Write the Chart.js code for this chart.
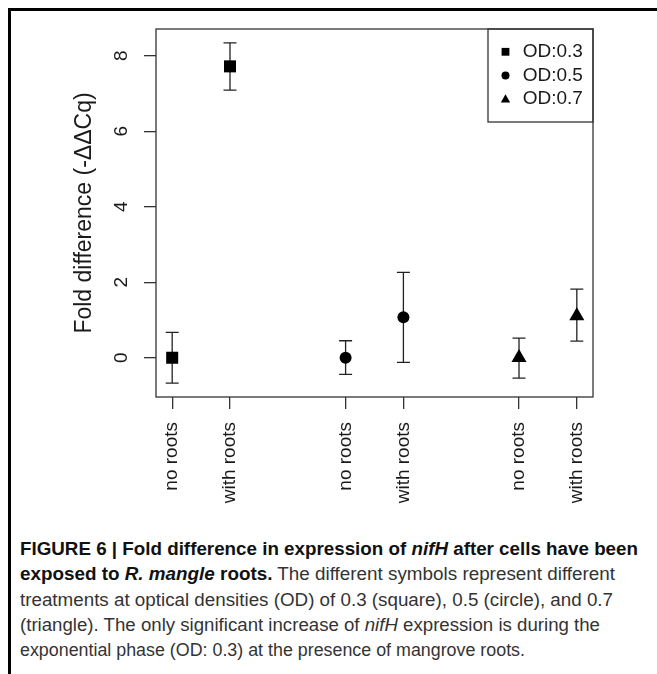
<!DOCTYPE html>
<html>
<head>
<meta charset="utf-8">
<script src="https://cdn.jsdelivr.net/npm/chart.js@4.4.1/dist/chart.umd.min.js"></script>
<style>
  body { margin: 0; background: #fff; }
  #pagina { position: relative; width: 657px; height: 674px; overflow: hidden; background: #fff; }
  #marco { position: absolute; left: 8px; top: 8px; width: 700px; height: 700px; border-top: 3px solid #000; border-left: 3px solid #000; }
  #grafico { position: absolute; left: 0; top: 0; }
  #pie { position: absolute; left: 20px; top: 537px; font-family: 'Liberation Sans', Arial, sans-serif; font-size: 17.5px; line-height: 25.3px; color: #333; }
  .linea { white-space: nowrap; height: 25.3px; }
  .linea span { display: inline-block; transform-origin: 0 0; }
  b { color: #111; }
</style>
</head>
<body>
<div id="pagina">
  <div id="marco"></div>
  <canvas id="grafico" width="657" height="526"></canvas>
  <div id="pie">
    <div class="linea"><span data-w="618"><b>FIGURE 6 | Fold difference in expression of <i>nifH</i> after cells have been</b></span></div>
    <div class="linea"><span data-w="595"><b>exposed to <i>R. mangle</i> roots.</b> The different symbols represent different</span></div>
    <div class="linea"><span data-w="593">treatments at optical densities (OD) of 0.3 (square), 0.5 (circle), and 0.7</span></div>
    <div class="linea"><span data-w="580">(triangle). The only significant increase of <i>nifH</i> expression is during the</span></div>
    <div class="linea"><span data-w="505">exponential phase (OD: 0.3) at the presence of mangrove roots.</span></div>
  </div>
</div>
<script>
// Datos
const categorias = ['no roots', 'with roots', 'no roots', 'with roots', 'no roots', 'with roots'];
const posiciones = [1, 2, 4, 5, 7, 8];
const series = ['OD:0.3', 'OD:0.5', 'OD:0.7'];
const estilos = ['rect', 'circle', 'triangle'];
const valores = [[0, 7.72], [0, 1.07], [0, 1.11]];
const inferior = [[-0.67, 7.09], [-0.44, -0.12], [-0.54, 0.44]];
const superior = [[0.67, 8.34], [0.45, 2.26], [0.52, 1.82]];
const marcasY = [0, 2, 4, 6, 8];

const fuente = "'Liberation Sans', Arial, sans-serif";
const colorTexto = '#1a1a1a';

// Radios para que los simbolos midan lo mismo que en R
const radios = { rect: 8.5, circle: 6, triangle: 8.7 };

const datasets = series.map((nombre, i) => ({
    label: nombre,
    data: valores[i].map((v, j) => ({
        x: posiciones[i * 2 + j],
        y: v,
        lo: inferior[i][j],
        hi: superior[i][j]
    })),
    pointStyle: estilos[i],
    pointRadius: radios[estilos[i]],
    pointBackgroundColor: '#000',
    pointBorderWidth: 0,
    showLine: false
}));

// Barras de error con tope
const barrasError = {
    id: 'barrasError',
    beforeDatasetsDraw(chart) {
        const ctx = chart.ctx;
        const ejeX = chart.scales.x;
        const ejeY = chart.scales.y;
        ctx.save();
        ctx.strokeStyle = '#222';
        ctx.lineWidth = 1.3;
        chart.data.datasets.forEach(ds => {
            ds.data.forEach(p => {
                const px = ejeX.getPixelForValue(p.x);
                const arriba = ejeY.getPixelForValue(p.hi);
                const abajo = ejeY.getPixelForValue(p.lo);
                ctx.beginPath();
                ctx.moveTo(px, arriba);
                ctx.lineTo(px, abajo);
                ctx.moveTo(px - 6.5, arriba);
                ctx.lineTo(px + 6.5, arriba);
                ctx.moveTo(px - 6.5, abajo);
                ctx.lineTo(px + 6.5, abajo);
                ctx.stroke();
            });
        });
        ctx.restore();
    }
};

function dibujarSimbolo(ctx, estilo, x, y, r) {
    ctx.beginPath();
    if (estilo === 'rect') {
        ctx.rect(x - r, y - r, 2 * r, 2 * r);
    } else if (estilo === 'circle') {
        ctx.arc(x, y, r, 0, Math.PI * 2);
    } else {
        ctx.moveTo(x, y - r);
        ctx.lineTo(x + r * 0.866, y + r / 2);
        ctx.lineTo(x - r * 0.866, y + r / 2);
        ctx.closePath();
    }
    ctx.fill();
}

// Caja alrededor del grafico y leyenda dentro
const cajaYLeyenda = {
    id: 'cajaYLeyenda',
    afterDraw(chart) {
        const ctx = chart.ctx;
        const area = chart.chartArea;
        ctx.save();
        ctx.strokeStyle = '#333';
        ctx.lineWidth = 1.3;
        ctx.strokeRect(area.left, area.top, area.right - area.left, area.bottom - area.top);

        const izq = area.right - 105;
        const abajo = area.top + 93;
        ctx.strokeRect(izq, area.top, area.right - izq, abajo - area.top);

        const tamSimbolo = { rect: 3.9, circle: 4, triangle: 5.4 };
        ctx.fillStyle = '#000';
        ctx.font = '19px ' + fuente;
        ctx.textBaseline = 'middle';
        ctx.textAlign = 'left';
        chart.data.datasets.forEach((ds, i) => {
            const fila = area.top + 22.8 + i * 23.7;
            dibujarSimbolo(ctx, ds.pointStyle, izq + 17.5, fila + (ds.pointStyle === 'triangle' ? 0.5 : 0), tamSimbolo[ds.pointStyle]);
            ctx.fillStyle = colorTexto;
            ctx.fillText(ds.label, izq + 34.7, fila);
            ctx.fillStyle = '#000';
        });
        ctx.restore();
    }
};

new Chart(document.getElementById('grafico'), {
    type: 'scatter',
    data: { datasets: datasets },
    options: {
        responsive: false,
        animation: false,
        devicePixelRatio: 1,
        layout: { padding: { top: 29, right: 64, left: 0, bottom: 0 } },
        plugins: {
            legend: { display: false },
            tooltip: { enabled: false }
        },
        scales: {
            x: {
                type: 'linear',
                min: 0.72,
                max: 8.28,
                afterBuildTicks: eje => { eje.ticks = posiciones.map(v => ({ value: v })); },
                afterFit: eje => { eje.height = 129; },
                border: { display: false },
                grid: { drawOnChartArea: false, tickLength: 12, color: '#333', lineWidth: 1.3 },
                ticks: {
                    autoSkip: false,
                    minRotation: 90,
                    maxRotation: 90,
                    padding: 13,
                    color: colorTexto,
                    font: { family: fuente, size: 19 },
                    callback: (v, i) => categorias[i]
                }
            },
            y: {
                min: -1.04,
                max: 8.71,
                afterBuildTicks: eje => { eje.ticks = marcasY.map(v => ({ value: v })); },
                afterFit: eje => { eje.width = 156; },
                border: { display: false },
                grid: { drawOnChartArea: false, tickLength: 12, color: '#333', lineWidth: 1.3 },
                ticks: {
                    minRotation: 90,
                    maxRotation: 90,
                    crossAlign: 'center',
                    padding: 16.7,
                    color: colorTexto,
                    font: { family: fuente, size: 19 },
                    callback: v => String(v)
                },
                title: {
                    display: true,
                    text: 'Fold difference (-\u0394\u0394Cq)',
                    color: colorTexto,
                    font: { family: fuente, size: 23 },
                    padding: { top: 71, bottom: 0 }
                }
            }
        }
    },
    plugins: [barrasError, cajaYLeyenda]
});

// Ajustar el ancho de cada linea del pie al original
document.querySelectorAll('.linea span').forEach(s => {
    const ancho = s.getBoundingClientRect().width;
    s.style.transform = 'scaleX(' + (Number(s.dataset.w) / ancho) + ')';
});
</script>
</body>
</html>
